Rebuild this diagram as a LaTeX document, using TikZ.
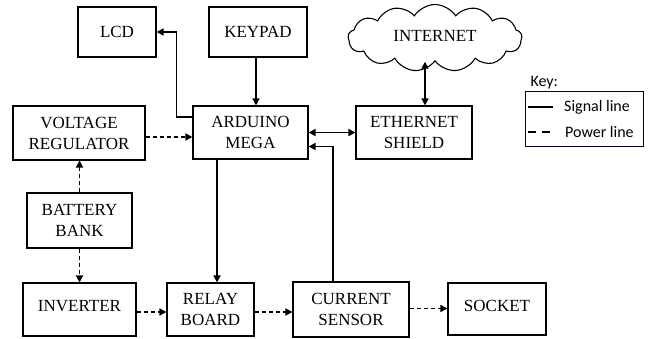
\documentclass[tikz,border=0pt]{standalone}
\usepackage{fontspec}
\setmainfont{Liberation Serif}
\newfontfamily\keyfont{Carlito}
\usetikzlibrary{arrows.meta,shapes.symbols}

\begin{document}
\begin{tikzpicture}[x=1pt,y=-1pt,
  blk/.style={draw, line width=1.1pt, align=center, inner sep=0pt,
    font=\fontsize{17}{21}\selectfont},
  sig/.style={line width=1.5pt, -{Triangle[length=7pt,width=7pt]}},
  sigb/.style={sig, {Triangle[length=7pt,width=7pt]}-{Triangle[length=7pt,width=7pt]}},
  pwr/.style={sig, dash pattern=on 4pt off 3pt}]
\useasboundingbox (0,0) rectangle (652,339);
% blocks
\node[blk, minimum width=78, minimum height=50] (lcd) at (117,32) {LCD};
\node[blk, minimum width=98, minimum height=50] (keypad) at (258,32) {KEYPAD};
\node[blk, minimum width=115, minimum height=53] (arduino) at (250.5,132.5) {ARDUINO\\MEGA};
\node[blk, minimum width=132, minimum height=54] (volt) at (79,133) {VOLTAGE\\REGULATOR};
\node[blk, minimum width=116, minimum height=53] (eth) at (414,132.5) {ETHERNET\\SHIELD};
\node[blk, cloud, cloud puffs=13, cloud puff arc=115, aspect=2.6,
  minimum width=174, minimum height=67] (net) at (435,38) {\raisebox{4pt}{INTERNET}};
\node[blk, minimum width=105, minimum height=55] (battery) at (79.5,220.5) {BATTERY\\BANK};
\node[blk, minimum width=113, minimum height=53] (inverter) at (79.5,309.5) {\raisebox{8pt}{INVERTER}};
\node[blk, minimum width=87, minimum height=53] (relay) at (210.5,309.5) {RELAY\\BOARD};
\node[blk, minimum width=116, minimum height=55] (current) at (351,309.5) {CURRENT\\SENSOR};
\node[blk, minimum width=98, minimum height=52] (socket) at (497,309) {\raisebox{6pt}{SOCKET}};
% key
\node[anchor=west, font=\keyfont\fontsize{16}{19}\selectfont] (keylbl) at (527,83) {Key:};
\node[draw=black!80!blue, line width=1pt, minimum width=118, minimum height=55] (key) at (584,119.5) {};
\node[anchor=west, inner sep=0pt, font=\keyfont\fontsize{16}{19}\selectfont] (sigtxt) at (564,107) {Signal line};
\node[anchor=west, inner sep=0pt, font=\keyfont\fontsize{16}{19}\selectfont] (pwrtxt) at (565,132) {Power line};
\draw[line width=1.6pt] ([xshift=-36pt]sigtxt.west) -- ([xshift=-11pt]sigtxt.west);
\draw[line width=1.6pt, dash pattern=on 8pt off 6pt] ([xshift=-37pt]pwrtxt.west) -- ([xshift=-12pt]pwrtxt.west);
% connectors
\draw[sig] ([yshift=15.5pt]arduino.west) -- ++(-16,0) |- (lcd.east);
\draw[sig] ([xshift=-2pt]keypad.south) -- ([xshift=-2pt]keypad.south |- arduino.north);
\draw[pwr] ([yshift=-4pt]volt.east) -- ([yshift=-4pt]volt.east -| arduino.west);
\draw[sigb] (arduino.east) -- (arduino.east -| eth.west);
\draw[sig] ([xshift=-18pt]current.north) |- ([yshift=-14pt]arduino.east);
\draw[sigb] ([xshift=11pt]eth.north) -- ([xshift=11pt]eth.north |- net.south);
\draw[pwr] (battery.north) -- (battery.north |- volt.south);
\draw[pwr] (battery.south) -- (battery.south |- inverter.north);
\draw[sig] ([xshift=-33.5pt]arduino.south) -- ([xshift=-33.5pt]arduino.south |- relay.north);
\draw[pwr] ([yshift=-2.5pt]inverter.east) -- ([yshift=-2.5pt]inverter.east -| relay.west);
\draw[pwr] ([yshift=-2.5pt]relay.east) -- ([yshift=-2.5pt]relay.east -| current.west);
\draw[pwr] ([yshift=1pt]current.east) -- ([yshift=1pt]current.east -| socket.west);
\end{tikzpicture}
\end{document}
